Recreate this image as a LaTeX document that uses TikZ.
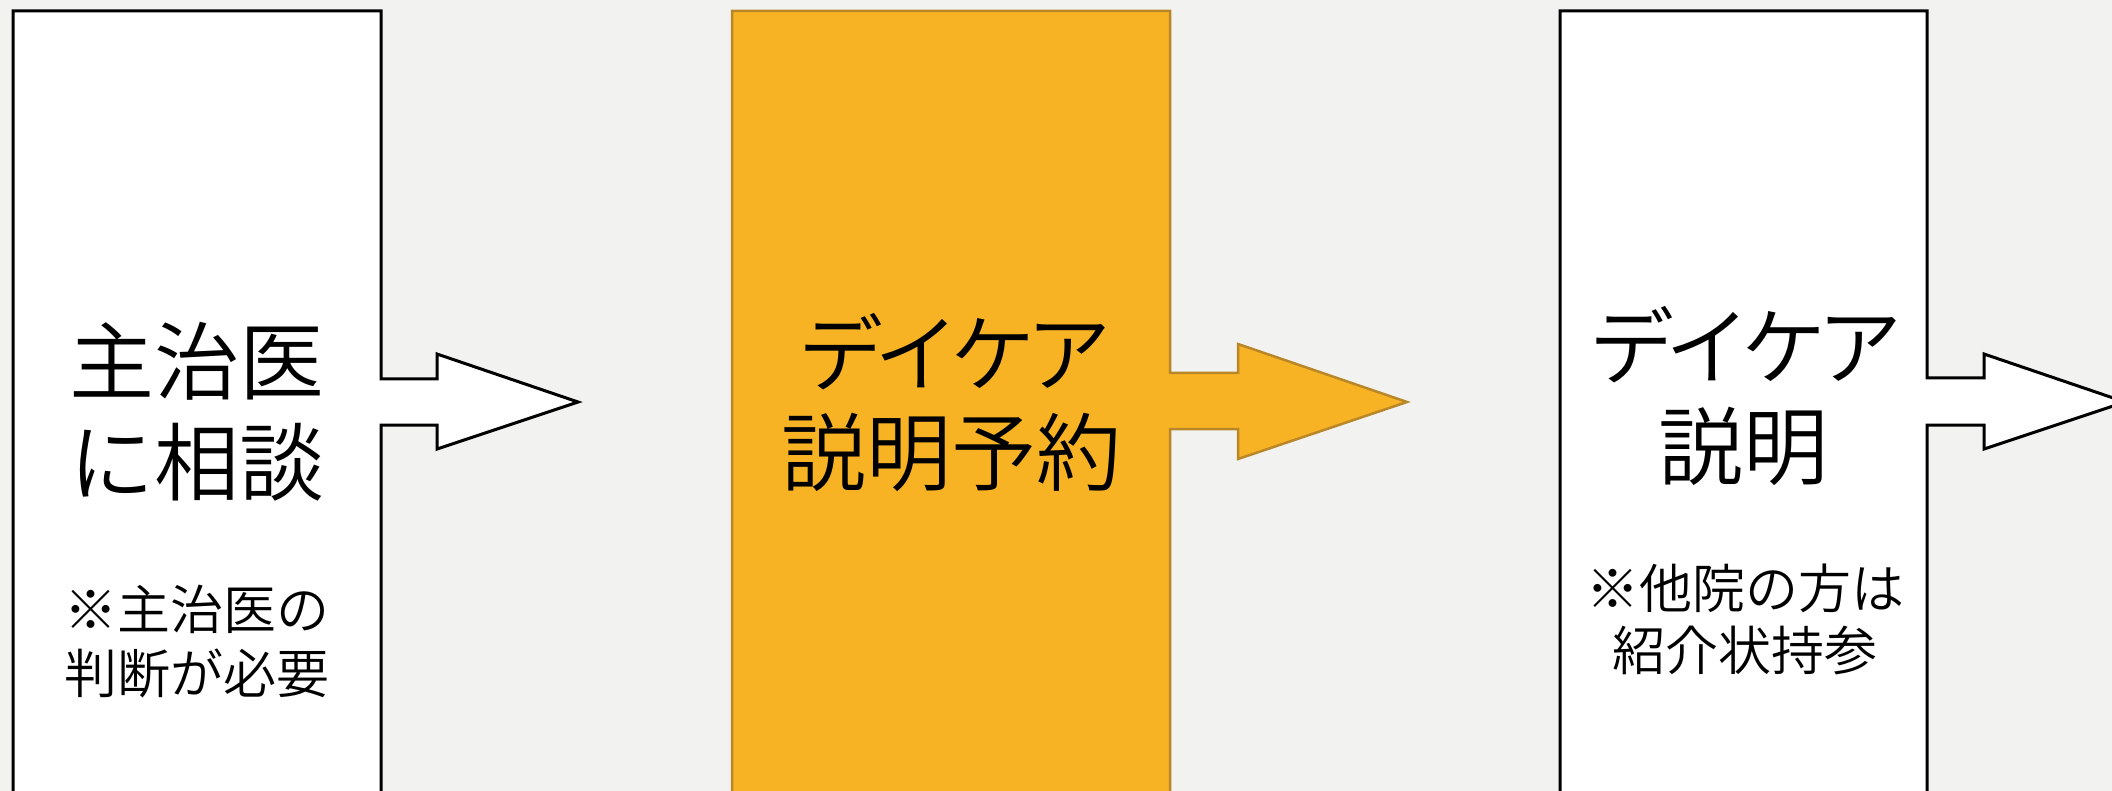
\documentclass[tikz,border=0pt]{standalone}
\usepackage{fontspec}
\setmainfont{Noto Sans CJK JP}[UprightFont={* DemiLight}]
\newfontfamily\kata{Noto Sans CJK JP}[UprightFont={* DemiLight}, LetterSpace=-10.5]
\definecolor{bgc}{RGB}{242,242,240}
\definecolor{orangefill}{RGB}{247,179,36}
\definecolor{orangeline}{RGB}{185,135,40}
\tikzset{
  whitestep/.style={draw=black, fill=white, line width=3pt, line join=miter},
  orangestep/.style={draw=orangeline, fill=orangefill, line width=2.5pt, line join=miter},
  bigtxt/.style={anchor=base, inner sep=0pt, font=\fontsize{85}{100}\selectfont},
  smalltxt/.style={anchor=base, inner sep=0pt, font=\fontsize{53}{63}\selectfont},
}
\begin{document}
\begin{tikzpicture}[x=1pt, y=-1pt]
\useasboundingbox (0,0) rectangle (2112,791);
\fill[bgc] (0,0) rectangle (2112,791);
\clip (0,0) rectangle (2112,791);
% box 1 with arrow
\draw[whitestep] (13,11) -- (381,11) -- (381,379) -- (437,379) -- (437,354) -- (578,402)
  -- (437,449) -- (437,425) -- (381,425) -- (381,810) -- (13,810) -- cycle;
% box 2 with arrow
\draw[orangestep] (732,11) -- (1170,11) -- (1170,373) -- (1238,373) -- (1238,344) -- (1407,402)
  -- (1238,459) -- (1238,429) -- (1170,429) -- (1170,810) -- (732,810) -- cycle;
% box 3 with arrow
\draw[whitestep] (1560,11) -- (1927,11) -- (1927,378) -- (1984,378) -- (1984,354) -- (2125,402)
  -- (1984,449) -- (1984,425) -- (1927,425) -- (1927,810) -- (1560,810) -- cycle;
% texts box 1
\node[bigtxt] (a1) at (197,393) {主治医};
\node[bigtxt] (a2) at (197,494) {に相談};
\node[smalltxt] (a3) at (197,629) {※主治医の};
\node[smalltxt] (a4) at (197,693) {判断が必要};
% texts box 2
\node[bigtxt] (b1) at (955,385) {\kata デイケア};
\node[bigtxt] (b2) at (951,484) {説明予約};
% texts box 3
\node[bigtxt] (c1) at (1746,378) {\kata デイケア};
\node[bigtxt] (c2) at (1743,478) {説明};
\node[smalltxt] (c3) at (1745,608) {※他院の方は};
\node[smalltxt] (c4) at (1745,670) {紹介状持参};
\end{tikzpicture}
\end{document}
